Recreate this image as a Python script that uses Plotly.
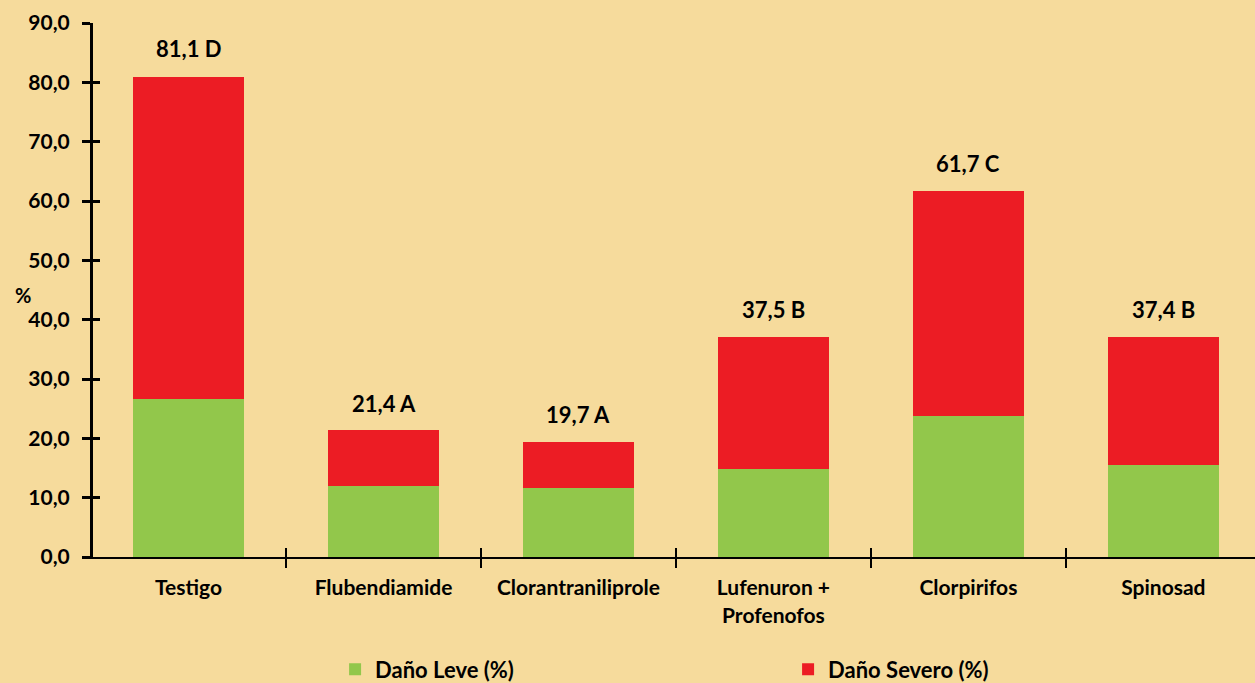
import plotly.graph_objects as go

categories = ["Testigo", "Flubendiamide", "Clorantraniliprole", "Lufenuron +<br>Profenofos", "Clorpirifos", "Spinosad"]
dano_leve = [26.6, 12.0, 11.6, 14.8, 23.8, 15.5]
dano_severo = [54.3, 9.4, 7.8, 22.3, 37.9, 21.6]
totals = [81.1, 21.4, 19.5, 37.1, 61.7, 37.1]
labels = ["81,1 D", "21,4 A", "19,7 A", "37,5 B", "61,7 C", "37,4 B"]
y_ticks = [0, 10, 20, 30, 40, 50, 60, 70, 80, 90]

FONT = "Lato"
BG = "#F6DB9C"
GREEN = "#92C74B"
RED = "#EC1C24"

fig = go.Figure()
fig.add_trace(go.Bar(x=categories, y=dano_leve, name="Daño Leve (%)", marker_color=GREEN,
                     marker_line_width=0, width=0.57))
fig.add_trace(go.Bar(x=categories, y=dano_severo, name="Daño Severo (%)", marker_color=RED,
                     marker_line_width=0, width=0.57))
# invisible trace for overlay axes
fig.add_trace(go.Bar(x=categories, y=[0]*len(categories), xaxis="x2", yaxis="y2",
                     showlegend=False, hoverinfo="skip", marker_color="rgba(0,0,0,0)"))

for c, t, lab in zip(categories, totals, labels):
    fig.add_annotation(x=c, y=t, text=lab, showarrow=False, yshift=27,
                       font=dict(family=FONT, size=22, color="black", weight="bold"))

fig.add_annotation(xref="paper", yref="paper", x=-0.06, y=0.49, text="%", showarrow=False,
                   xanchor="center", font=dict(family=FONT, size=20, color="black", weight="bold"))

xr = [-0.49, 5.47]
fig.update_layout(
    width=1255, height=683,
    paper_bgcolor=BG, plot_bgcolor=BG,
    barmode="stack",
    separators=",.",
    margin=dict(l=93, r=0, t=23, b=126, autoexpand=False),
    showlegend=True,
    legend=dict(orientation="h", xref="container", yref="container", x=0.267, y=0.02,
                xanchor="left", yanchor="middle", traceorder="normal",
                font=dict(family=FONT, size=22, color="black", weight="bold"),
                entrywidth=408, entrywidthmode="pixels", itemwidth=30,
                bgcolor="rgba(0,0,0,0)"),
    xaxis=dict(type="category", range=xr, showline=True, linecolor="black", linewidth=2,
               ticks="outside", tickson="boundaries", ticklen=9, tickwidth=2, tickcolor="black",
               tickfont=dict(family=FONT, size=21, color="black", weight="bold"),
               ticklabelstandoff=11, showgrid=False, zeroline=False),
    xaxis2=dict(type="category", range=xr, overlaying="x", matches="x", side="bottom",
                ticks="inside", tickson="boundaries", ticklen=9, tickwidth=2, tickcolor="black",
                showticklabels=False, showgrid=False, zeroline=False, showline=False),
    yaxis=dict(range=[0, 90], tickvals=y_ticks, tickformat=".1f", showline=True, linecolor="black",
               linewidth=3, ticks="outside", ticklen=8, tickwidth=3, tickcolor="black",
               tickfont=dict(family=FONT, size=21, color="black", weight="bold"),
               ticklabelstandoff=8, showgrid=False, zeroline=False),
    yaxis2=dict(range=[0, 90], tickvals=y_ticks, overlaying="y", matches="y", side="left",
                ticks="inside", ticklen=7, tickwidth=3, tickcolor="black",
                showticklabels=False, showgrid=False, zeroline=False, showline=False),
)

fig.write_html("out.html", config={"displayModeBar": False},
               post_script="document.body.style.margin='0';")
